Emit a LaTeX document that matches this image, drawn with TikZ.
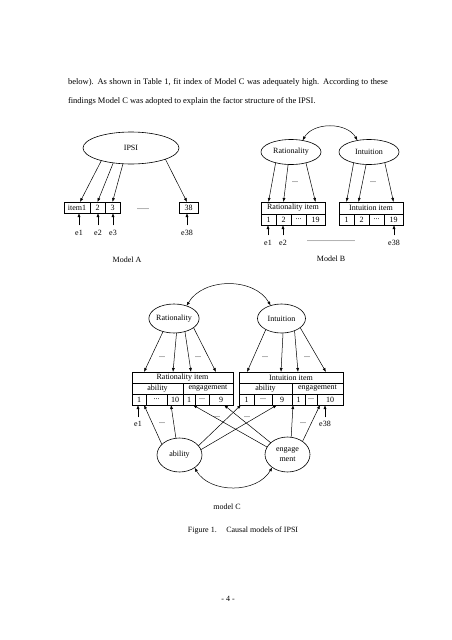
\documentclass[tikz,border=0pt]{standalone}
\usepackage{fontspec}
\setmainfont{Liberation Serif}
\usetikzlibrary{arrows.meta,shapes.geometric}
\tikzset{
  every node/.style={font=\fontsize{8}{9.6}\selectfont, inner sep=0pt, outer sep=0pt},
  lat/.style={ellipse, draw, line width=0.6pt},
  cell/.style={draw, rectangle, line width=0.6pt},
  arr/.style={-{Latex[length=4pt,width=3pt]}, line width=0.5pt},
  darr/.style={{Latex[length=4pt,width=3pt]}-{Latex[length=4pt,width=3pt]}, line width=0.5pt},
  body/.style={font=\fontsize{8.5}{10}\selectfont},
}
\begin{document}
\begin{tikzpicture}[x=1pt,y=-1pt]
\fill[white] (0,0) rectangle (452,640);
\useasboundingbox (0,0) rectangle (452,640);

% ---- body text
\node[body, anchor=west] (t1) at (68,82) {\makebox[320pt][s]{below). As shown in Table 1, fit index of Model C was adequately high. According to these}};
\node[body, anchor=west] (t2) at (68,101) {findings Model C was adopted to explain the factor structure of the IPSI.};

% ---- Model A
\node[lat, minimum width=96pt, minimum height=32pt] (ipsi) at (131,148) {IPSI};
\node[cell, minimum width=26pt, minimum height=11pt] (a1) at (77,207.5) {item1};
\node[cell, minimum width=15pt, minimum height=11pt] (a2) at (97.5,207.5) {2};
\node[cell, minimum width=15pt, minimum height=11pt] (a3) at (112.5,207.5) {3};
\node[cell, minimum width=19pt, minimum height=11pt] (a38) at (188.5,207.5) {38};
\node (adots) at (143,209) {......};
\draw[arr] (ipsi.203) -- ([xshift=3pt]a1.north);
\draw[arr] (ipsi.220) -- (a2.north);
\draw[arr] (ipsi.243) -- (a3.north);
\draw[arr] (ipsi.342) -- ([xshift=-1.5pt]a38.north);
\node (ea1) at (79,233) {e1};
\node (ea2) at (98,233) {e2};
\node (ea3) at (113,233) {e3};
\node (ea38) at (187,233) {e38};
\draw[arr] ([yshift=5pt]ea1.north) -- (ea1.north |- a1.south);
\draw[arr] ([yshift=5pt]ea2.north) -- (ea2.north |- a2.south);
\draw[arr] ([yshift=5pt]ea3.north) -- (ea3.north |- a3.south);
\draw[arr] ([yshift=5pt]ea38.north) -- (ea38.north |- a38.south);
\node (mA) at (127,260) {Model A};

% ---- Model B
\node[lat, minimum width=60pt, minimum height=25pt] (rb) at (291,152) {Rationality};
\node[lat, minimum width=60pt, minimum height=25pt] (ib) at (369,152) {Intuition};
\draw[darr] (rb.45) to[out=60,in=120] (ib.135);
\node[cell, minimum width=64pt, minimum height=12pt] (rbt) at (293,208) {Rationality item};
\node[cell, minimum width=15pt, minimum height=11pt] (rb1) at (268.5,219.5) {1};
\node[cell, minimum width=15pt, minimum height=11pt] (rb2) at (283.5,219.5) {2};
\node[cell, minimum width=15pt, minimum height=11pt] (rb3) at (298.5,219.5) {...};
\node[cell, minimum width=19pt, minimum height=11pt] (rb19) at (315.5,219.5) {19};
\node[cell, minimum width=64pt, minimum height=12pt] (ibt) at (371,208) {Intuition item};
\node[cell, minimum width=15pt, minimum height=11pt] (ib1) at (346.5,219.5) {1};
\node[cell, minimum width=15pt, minimum height=11pt] (ib2) at (361.5,219.5) {2};
\node[cell, minimum width=15pt, minimum height=11pt] (ib3) at (376.5,219.5) {...};
\node[cell, minimum width=19pt, minimum height=11pt] (ib19) at (393.5,219.5) {19};
\draw[arr] (rb.215) -- (rb1 |- rbt.north);
\draw[arr] (rb.257) -- (rb2 |- rbt.north);
\draw[arr] (rb.324) -- (rb19 |- rbt.north);
\draw[arr] (ib.215) -- (ib1 |- ibt.north);
\draw[arr] (ib.257) -- ([xshift=-3pt]ib2 |- ibt.north);
\draw[arr] (ib.326) -- (ib19 |- ibt.north);
\node (rbdots) at (295,182) {...};
\node (ibdots) at (373,182) {...};
\node (eb1) at (268,243) {e1};
\node (eb2) at (283,243) {e2};
\node (eb38) at (394,243) {e38};
\node (bdots) at (331,241) {........................};
\draw[arr] ([yshift=5pt]eb1.north) -- (eb1.north |- rb1.south);
\draw[arr] ([yshift=5pt]eb2.north) -- (eb2.north |- rb2.south);
\draw[arr] ([yshift=5pt]eb38.north) -- (eb38.north |- ib19.south);
\node (mB) at (331,259) {Model B};

% ---- Model C
\node[lat, minimum width=50pt, minimum height=29pt] (rc) at (174,318.5) {Rationality};
\node[lat, minimum width=48pt, minimum height=29pt] (ic) at (281.5,318.5) {Intuition};
\draw[darr] (rc.45) to[out=60,in=120] (ic.130);
% Rationality item box
\node[cell, minimum width=101pt, minimum height=11pt] (rct) at (182.5,377.5) {Rationality item};
\node[cell, minimum width=51pt, minimum height=11pt] (rca) at (157.5,388.5) {ability};
\node[cell, minimum width=50pt, minimum height=11pt] (rce) at (208,388.5) {engagement};
\node[cell, minimum width=14pt, minimum height=11pt] (rc1) at (139,399.5) {1};
\node[cell, minimum width=21pt, minimum height=11pt] (rcd) at (156.5,399.5) {...};
\node[cell, minimum width=16pt, minimum height=11pt] (rc10) at (175,399.5) {10};
\node[cell, minimum width=12pt, minimum height=11pt] (rce1) at (189,399.5) {1};
\node[cell, minimum width=14pt, minimum height=11pt] (rced) at (202,399.5) {...};
\node[cell, minimum width=24pt, minimum height=11pt] (rce9) at (221,399.5) {9\hspace{8pt}};
% Intuition item box
\node[cell, minimum width=104pt, minimum height=11pt] (ict) at (291,377.5) {Intuition item};
\node[cell, minimum width=53pt, minimum height=11pt] (ica) at (265.5,388.5) {ability};
\node[cell, minimum width=51pt, minimum height=11pt] (ice) at (317.5,388.5) {engagement};
\node[cell, minimum width=15pt, minimum height=11pt] (ic1) at (246.5,399.5) {1};
\node[cell, minimum width=18pt, minimum height=11pt] (icd) at (263,399.5) {...};
\node[cell, minimum width=20pt, minimum height=11pt] (ic9) at (282,399.5) {9};
\node[cell, minimum width=13pt, minimum height=11pt] (ice1) at (298.5,399.5) {1};
\node[cell, minimum width=12pt, minimum height=11pt] (iced) at (311,399.5) {...};
\node[cell, minimum width=26pt, minimum height=11pt] (ice10) at (330,399.5) {10\hspace{8pt}};
% factor -> items
\draw[arr] (rc.230) -- ([xshift=-38.5pt]rct.north);
\draw[arr] (rc.280) -- ([xshift=-9.5pt]rct.north);
\draw[arr] (rc.310) -- ([xshift=8.5pt]rct.north);
\draw[arr] (rc.335) -- ([xshift=33.5pt]rct.north);
\draw[arr] (ic.215) -- ([xshift=-44pt]ict.north);
\draw[arr] (ic.276) -- ([xshift=-10pt]ict.north);
\draw[arr] (ic.317) -- ([xshift=7pt]ict.north);
\draw[arr] (ic.334) -- ([xshift=35pt]ict.north);
\node (rcdots1) at (162,357) {...};
\node (rcdots2) at (198,357) {...};
\node (icdots1) at (265,357) {...};
\node (icdots2) at (307,357) {...};
% method factors
\node[lat, minimum width=45pt, minimum height=34pt] (ab) at (179.5,455) {ability};
\node[lat, minimum width=45pt, minimum height=35pt, align=center] (en) at (287.5,454.5) {engage\\ment};
\draw[darr] (ab.-40) to[out=-60,in=-120] (en.-140);
\draw[arr] (ab.149) -- ([xshift=5pt]rc1.south);
\draw[arr] (ab.102) -- ([xshift=-4pt]rc10.south);
\draw[arr] (ab.26) -- ([xshift=-5.5pt]ic1.south);
\draw[arr] (ab.14) -- ([xshift=-5pt]ic9.south);
\draw[arr] (en.160) -- ([xshift=4pt]rce1.south);
\draw[arr] (en.145) -- ([xshift=3pt]rce9.south);
\draw[arr] (en.78) -- ([xshift=-5.5pt]ice1.south);
\draw[arr] (en.41) -- ([xshift=-10pt]ice10.south);
% errors
\node (ec1) at (138,424) {e1};
\node (ec38) at (325,424) {e38};
\draw[arr] ([yshift=4pt]ec1.north) -- (ec1.north |- rc1.south);
\draw[arr] ([yshift=4pt]ec38.north) -- (ec38.north |- ice10.south);
\node (ecd1) at (162,423) {...};
\node (ecd2) at (303,423) {...};
\node (ecd3) at (217,417) {...};
\node (ecd4) at (247,417) {...};
\node (mC) at (227,507) {model C};
\node (cap) at (243,531) {Figure 1.\hspace{1.2em}Causal models of IPSI};
\node (pg) at (228,599) {- 4 -};
\end{tikzpicture}
\end{document}
